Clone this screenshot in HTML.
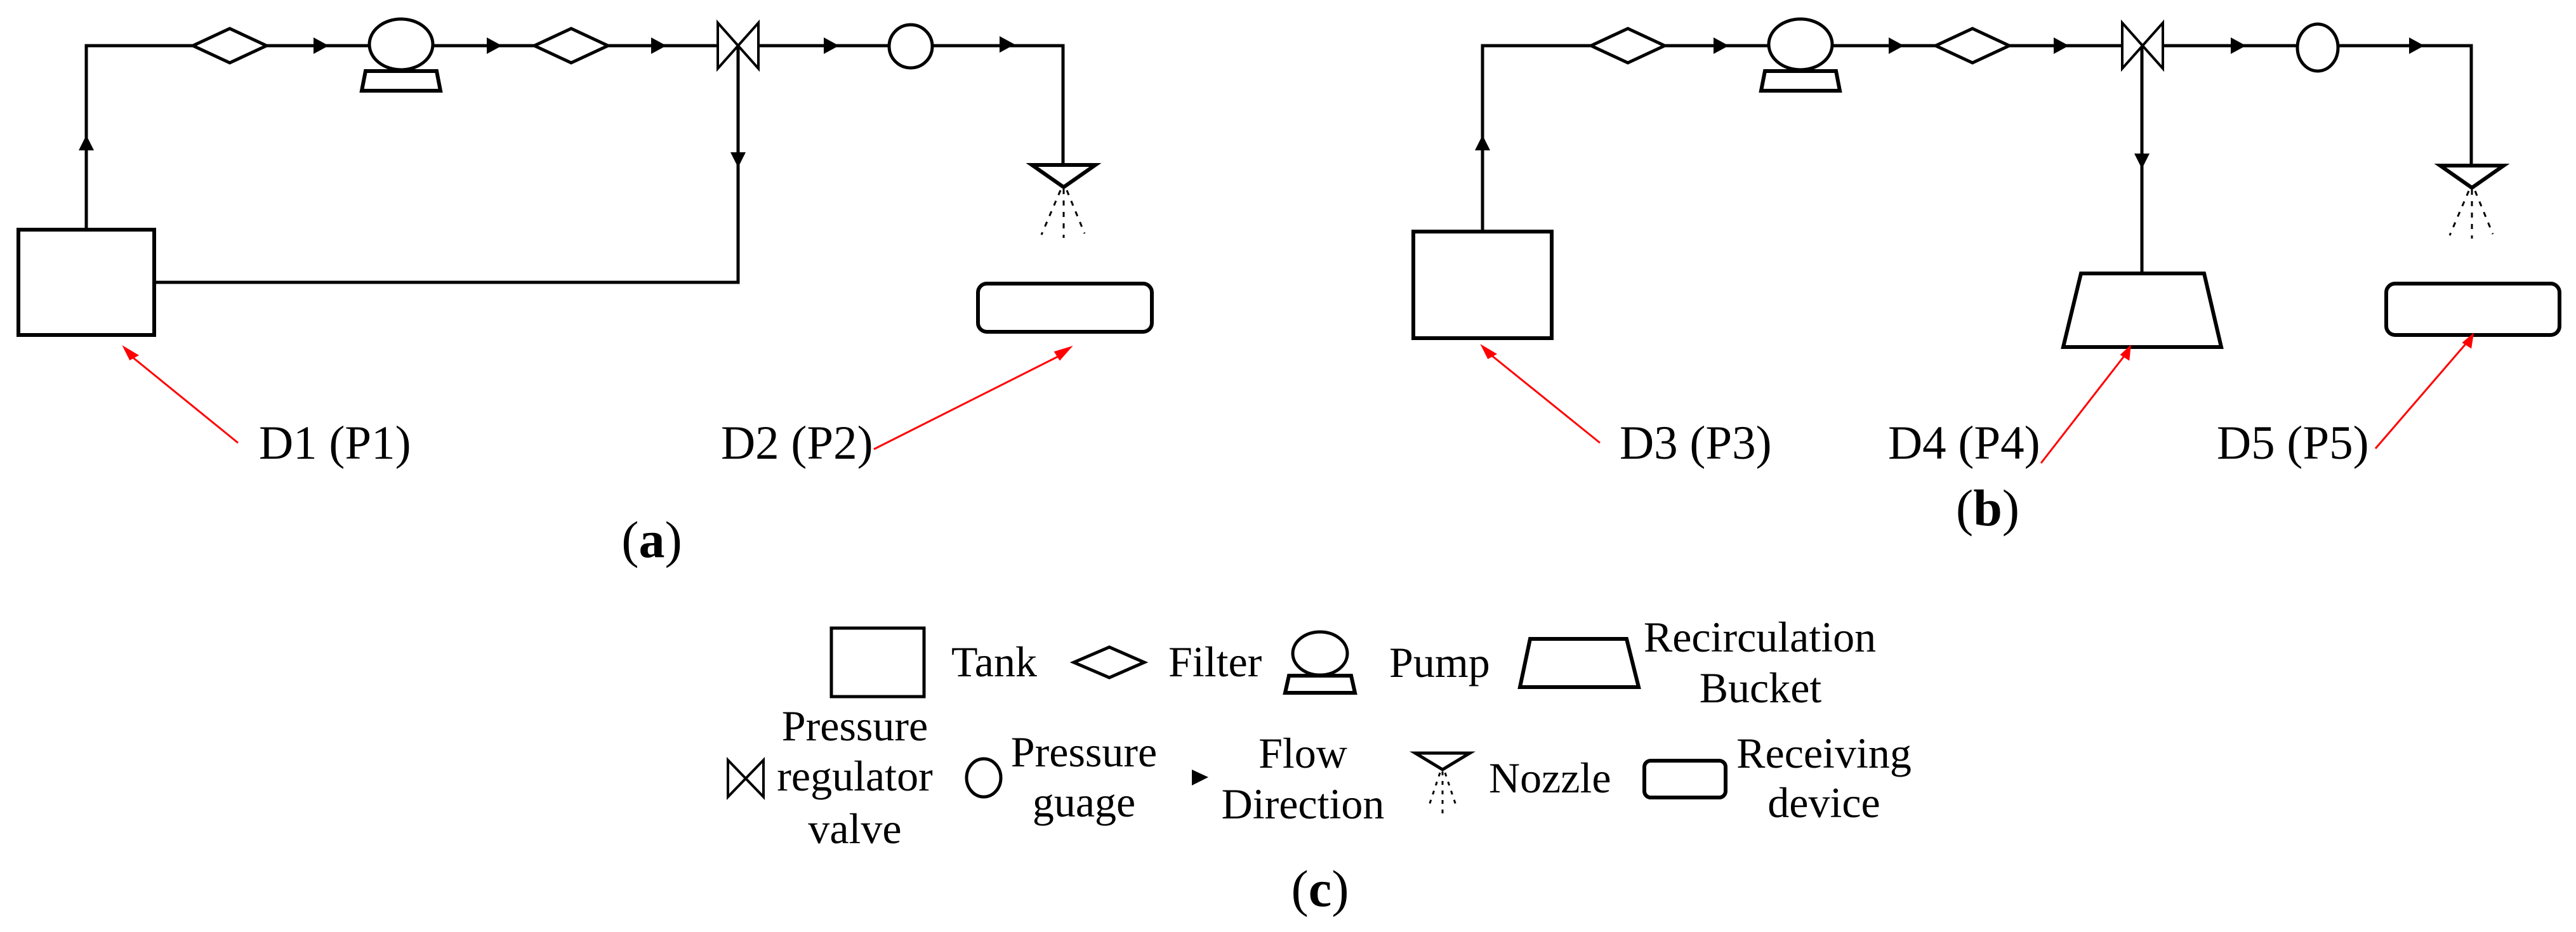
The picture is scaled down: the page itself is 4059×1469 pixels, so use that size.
<!DOCTYPE html>
<html><head><meta charset="utf-8"><style>html,body{margin:0;padding:0;background:#fff}svg{display:block}text,tspan{font-family:"Liberation Serif","DejaVu Serif","Times New Roman",Times,serif !important}</style></head>
<body>
<svg width="4059" height="1469" viewBox="0 0 4059 1469" xmlns="http://www.w3.org/2000/svg" style="font-family:'Liberation Serif','DejaVu Serif',serif">
<defs>
<g id="fa"><polygon points="-12,-13 12,0 -12,13" fill="#000"/></g>
<g id="da"><polygon points="-12,-12 0,12 12,-12" fill="#000"/></g>
<g id="ua"><polygon points="-12,12 0,-12 12,12" fill="#000"/></g>
<g id="filt"><polygon points="-58,0 0,-27 58,0 0,27" fill="#fff" stroke="#000" stroke-width="5"/></g>
<g id="pump"><ellipse cx="0" cy="0" rx="50" ry="40" fill="#fff" stroke="#000" stroke-width="5"/><polygon points="-56,42 56,42 62,73 -62,73" fill="#fff" stroke="#000" stroke-width="6"/></g>
<g id="valve"><polygon points="-32,-36 32,36 32,-36 -32,36" fill="#fff" stroke="#000" stroke-width="4"/></g>
<g id="noz"><polygon points="-50,0 50,0 0,35" fill="#fff" stroke="#000" stroke-width="6"/>
<g stroke="#000" stroke-width="3" stroke-dasharray="8,10"><line x1="0" y1="38" x2="0" y2="115"/><line x1="-5" y1="40" x2="-35" y2="110"/><line x1="5" y1="40" x2="33" y2="108"/></g></g>
</defs>
<g fill="none" stroke="#000" stroke-width="5">
<polyline points="136,362 136,72 1675,72 1675,260"/>
<polyline points="1163,72 1163,445 243,445"/>
<rect x="29" y="362" width="214" height="166" stroke-width="6"/>
<rect x="1541" y="447" width="274" height="76" rx="14" stroke-width="6"/>
<polyline points="2336,365 2336,72 3894,72 3894,261"/>
<line x1="3375" y1="72" x2="3375" y2="431"/>
<rect x="2227" y="365" width="218" height="168" stroke-width="6"/>
<polygon points="3279,431 3473,431 3500,547 3251,547" stroke-width="6"/>
<rect x="3760" y="447" width="273" height="81" rx="14" stroke-width="6"/>
</g>
<use href="#filt" x="362" y="72"/><use href="#fa" x="506" y="72"/>
<use href="#pump" x="632" y="70"/><use href="#fa" x="779" y="72"/>
<use href="#filt" x="900" y="72"/><use href="#fa" x="1038" y="72"/>
<use href="#valve" x="1163" y="72"/><use href="#fa" x="1310" y="72"/>
<circle cx="1435" cy="73" r="34" fill="#fff" stroke="#000" stroke-width="5"/><use href="#fa" x="1587" y="70"/>
<use href="#noz" x="1676" y="260"/>
<use href="#ua" x="136" y="225"/><use href="#da" x="1163" y="252"/>
<use href="#filt" x="2565" y="72"/><use href="#fa" x="2712" y="72"/>
<use href="#pump" x="2837" y="70"/><use href="#fa" x="2988" y="72"/>
<use href="#filt" x="3108" y="72"/><use href="#fa" x="3248" y="72"/>
<use href="#valve" x="3376" y="72"/><use href="#fa" x="3527" y="72"/>
<ellipse cx="3652" cy="75" rx="32" ry="37" fill="#fff" stroke="#000" stroke-width="5"/><use href="#fa" x="3808" y="72"/>
<use href="#noz" x="3895" y="261"/>
<use href="#ua" x="2336" y="225"/><use href="#da" x="3375" y="254"/>
<g stroke="#f00" stroke-width="3" fill="#f00">
<line x1="375" y1="698" x2="205" y2="560"/><polygon points="196,548 216,560 205,566" />
<line x1="1377" y1="708" x2="1675" y2="558"/><polygon points="1686,548 1670,566 1663,555"/>
<line x1="2521" y1="698" x2="2345" y2="556"/><polygon points="2336,546 2356,558 2345,564"/>
<line x1="3216" y1="730" x2="3348" y2="560"/><polygon points="3356,547 3354,566 3343,559"/>
<line x1="3743" y1="707" x2="3887" y2="540"/><polygon points="3896,528 3893,547 3882,540"/>
</g>
<g font-size="75" fill="#000" font-family="Liberation Serif, serif">
<text x="408" y="723">D1 (P1)</text>
<text x="1136" y="723">D2 (P2)</text>
<text x="2552" y="723">D3 (P3)</text>
<text x="2975" y="723">D4 (P4)</text>
<text x="3493" y="723">D5 (P5)</text>
</g>
<g font-size="82" fill="#000" text-anchor="middle" font-family="Liberation Serif, serif">
<text x="1027" y="878">(<tspan font-weight="bold">a</tspan>)</text>
<text x="3132" y="828">(<tspan font-weight="bold">b</tspan>)</text>
<text x="2080" y="1428">(<tspan font-weight="bold">c</tspan>)</text>
</g>
<g fill="#fff" stroke="#000">
<rect x="1310" y="990" width="146" height="108" stroke-width="5"/>
<polygon points="1692,1044 1748,1020 1803,1044 1748,1068" stroke-width="5"/>
<ellipse cx="2080" cy="1030" rx="43" ry="34" stroke-width="5"/>
<polygon points="2031,1065 2129,1065 2135,1092 2025,1092" stroke-width="6"/>
<polygon points="2411,1007 2563,1007 2582,1083 2395,1083" stroke-width="6"/>
<polygon points="1147,1198 1203,1256 1203,1198 1147,1256" stroke-width="4"/>
<ellipse cx="1550" cy="1226" rx="27" ry="30" stroke-width="5"/>
<rect x="2591" y="1199" width="128" height="58" rx="10" stroke-width="6"/>
</g>
<polygon points="1878,1213 1904,1225 1878,1238" fill="#000"/>
<polygon points="2230,1187 2316,1187 2273,1213" fill="#fff" stroke="#000" stroke-width="5"/>
<g stroke="#000" stroke-width="3" stroke-dasharray="6,9"><line x1="2273" y1="1216" x2="2273" y2="1282"/><line x1="2269" y1="1218" x2="2250" y2="1275"/><line x1="2277" y1="1218" x2="2296" y2="1275"/></g>
<g font-size="68" fill="#000" font-family="Liberation Serif, serif">
<text x="1499" y="1066">Tank</text>
<text x="1841" y="1066">Filter</text>
<text x="2189" y="1067">Pump</text>
<text x="2346" y="1249">Nozzle</text>
</g>
<g font-size="68" fill="#000" text-anchor="middle" font-family="Liberation Serif, serif">
<text x="2773" y="1027">Recirculation</text>
<text x="2774" y="1107">Bucket</text>
<text x="1347" y="1167">Pressure</text>
<text x="1347" y="1246">regulator</text>
<text x="1347" y="1329">valve</text>
<text x="1708" y="1208">Pressure</text>
<text x="1708" y="1287">guage</text>
<text x="2053" y="1210">Flow</text>
<text x="2053" y="1290">Direction</text>
<text x="2874" y="1210">Receiving</text>
<text x="2874" y="1288">device</text>
</g>
</svg>
</body></html>
